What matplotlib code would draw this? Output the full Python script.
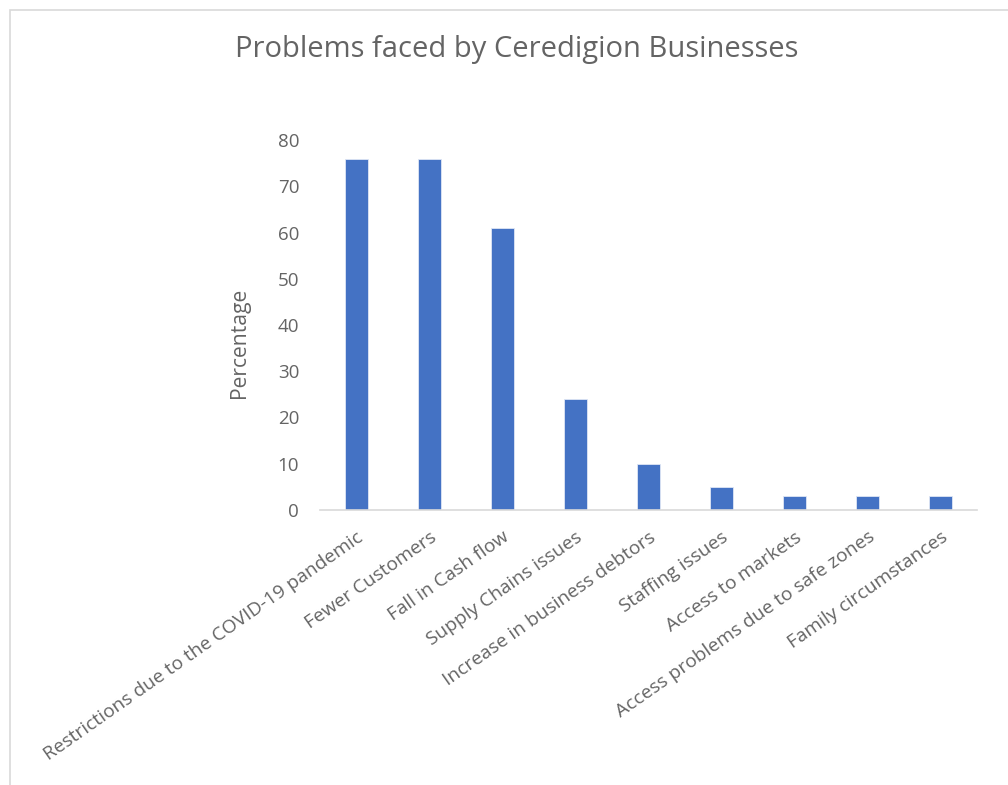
import matplotlib.pyplot as plt
from matplotlib.patches import Rectangle
import numpy as np

categories = [
    "Restrictions due to the COVID-19 pandemic",
    "Fewer Customers",
    "Fall in Cash flow",
    "Supply Chains issues",
    "Increase in business debtors",
    "Staffing issues",
    "Access to markets",
    "Access problems due to safe zones",
    "Family circumstances",
]
percentages = [76, 76, 61, 24, 10, 5, 3, 3, 3]
y_ticks = [0, 10, 20, 30, 40, 50, 60, 70, 80]

plt.rcParams['font.family'] = ['Open Sans', 'DejaVu Sans']
text_grey = '#646464'
bar_blue = '#4472C4'
line_grey = '#D9D9D9'

fig = plt.figure(figsize=(10.08, 7.85), dpi=100)
ax = fig.add_axes([320 / 1008, 1 - 510 / 785, 657 / 1008, 370 / 785])

x = np.arange(len(categories))
ax.bar(x, percentages, width=0.315, color=bar_blue, edgecolor='#dfe6f5', linewidth=0.6)

ax.set_xlim(-0.5, len(categories) - 0.5)
ax.set_ylim(0, 80)
ax.set_yticks(y_ticks)
ax.set_yticklabels([str(t) for t in y_ticks], fontsize=13.5, color=text_grey)
ax.set_xticks(x)
ax.set_xticklabels(categories, rotation=35, ha='right', rotation_mode='anchor',
                   fontsize=13.8, color=text_grey)
ax.tick_params(axis='both', length=0)
ax.tick_params(axis='y', pad=15)
ax.tick_params(axis='x', pad=13)

for side in ['top', 'right', 'left']:
    ax.spines[side].set_visible(False)
ax.spines['bottom'].set_color(line_grey)
ax.spines['bottom'].set_linewidth(1.2)

ax.set_ylabel("Percentage", fontsize=15.2, color=text_grey)
ax.yaxis.set_label_coords(-0.107, 0.452)

fig.text(517 / 1008, 1 - 50 / 785, "Problems faced by Ceredigion Businesses",
         ha='center', va='center', fontsize=21, color=text_grey)

# chart frame, running off the right and bottom edges
fig.patches.append(Rectangle((10 / 1008, -0.1), 1.2, 1 - 10 / 785 + 0.1,
                             transform=fig.transFigure, fill=False,
                             edgecolor=line_grey, linewidth=1.2))

fig.savefig("out.png", dpi=100, facecolor='white')
